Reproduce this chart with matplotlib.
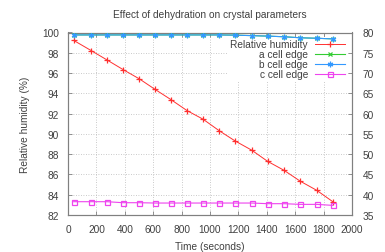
import matplotlib
matplotlib.use("Agg")
import matplotlib.pyplot as plt

plt.rcParams['font.family'] = ['Liberation Sans', 'DejaVu Sans']

time_s = [40, 164, 275, 387, 502, 613, 725, 838, 951, 1063, 1176, 1293, 1406, 1521, 1636, 1751, 1866]
rel_humidity = [99.22, 98.21, 97.29, 96.35, 95.43, 94.39, 93.38, 92.30, 91.45, 90.33,
                89.31, 88.40, 87.29, 86.41, 85.33, 84.44, 83.30]
a_edge = [79.4, 79.4, 79.4, 79.4, 79.4, 79.4, 79.4, 79.4, 79.4, 79.4,
          79.35, 79.23, 79.11, 78.95, 78.70, 78.58, 78.42]
b_edge = [79.4, 79.4, 79.4, 79.4, 79.4, 79.4, 79.4, 79.4, 79.4, 79.4,
          79.35, 79.23, 79.11, 78.95, 78.70, 78.58, 78.42]
c_edge = [38.28, 38.28, 38.28, 38.03, 38.03, 37.95, 37.95, 37.95, 37.95, 37.95,
          37.95, 37.95, 37.79, 37.79, 37.62, 37.62, 37.37]

xticks = [0, 200, 400, 600, 800, 1000, 1200, 1400, 1600, 1800, 2000]
yticks_left = [82, 84, 86, 88, 90, 92, 94, 96, 98, 100]
yticks_right = [35, 40, 45, 50, 55, 60, 65, 70, 75, 80]

text_color = '#404040'
frame_color = '#808080'
fs = 7.3

fig = plt.figure(figsize=(3.85, 2.53), dpi=100)
ax = fig.add_axes([68/385, 1-216/253, (352-68)/385, (216-33.5)/253])
ax2 = ax.twinx()

ax.set_axisbelow(True)
ax.grid(True, color='#b8b8b8', linestyle=(0, (1, 2)), linewidth=0.6)

l1, = ax.plot(time_s, rel_humidity, color='#ff3030', linewidth=0.7, marker='+',
              markersize=4, markeredgewidth=0.9, label='Relative humidity', zorder=3)
l2, = ax2.plot(time_s, a_edge, color='#33cc33', linewidth=0.8, marker='x',
               markersize=3.5, markeredgewidth=0.9, label='a cell edge', zorder=3)
l3, = ax2.plot(time_s, b_edge, color='#3399ff', linewidth=0.8, marker=(6, 2, 0),
               markersize=4, markeredgewidth=0.9, label='b cell edge', zorder=3)
l4, = ax2.plot(time_s, c_edge, color='#ee44ee', linewidth=0.8, marker='s',
               markersize=3.6, markerfacecolor='none', markeredgewidth=0.9,
               label='c cell edge', zorder=3)

ax.set_xlim(0, 2000)
ax.set_ylim(82, 100)
ax2.set_ylim(35, 80)
ax.set_xticks(xticks)
ax.set_yticks(yticks_left)
ax2.set_yticks(yticks_right)

ax.tick_params(axis='x', direction='in', length=3, width=0.6, color=frame_color,
               labelsize=fs, labelcolor=text_color, pad=6.5, top=True)
ax.tick_params(axis='y', direction='in', length=3, width=0.6, color=frame_color,
               labelsize=fs, labelcolor=text_color, pad=6.5)
ax2.tick_params(axis='y', direction='in', length=3, width=0.6, color=frame_color,
                labelsize=fs, labelcolor=text_color, pad=7.5)

for a in (ax, ax2):
    for s in a.spines.values():
        s.set_color(frame_color)
        s.set_linewidth(0.8)

ax.set_xlabel('Time (seconds)', fontsize=fs, color=text_color, labelpad=5)
ax.set_ylabel('Relative humidity (%)', fontsize=fs, color=text_color, labelpad=9)
ax.set_title('Effect of dehydration on crystal parameters', fontsize=fs,
             color=text_color, pad=11.5)

leg = ax2.legend(handles=[l1, l2, l3, l4], loc='upper right', markerfirst=False,
                 fontsize=fs, frameon=True, fancybox=False, facecolor='white',
                 edgecolor='none', framealpha=1, numpoints=1, handlelength=3.0,
                 handletextpad=0.7, labelspacing=0.0, borderpad=0.25,
                 borderaxespad=0.4)
leg.set_zorder(1)
for t in leg.get_texts():
    t.set_color(text_color)

fig.savefig('out.png', dpi=100)
